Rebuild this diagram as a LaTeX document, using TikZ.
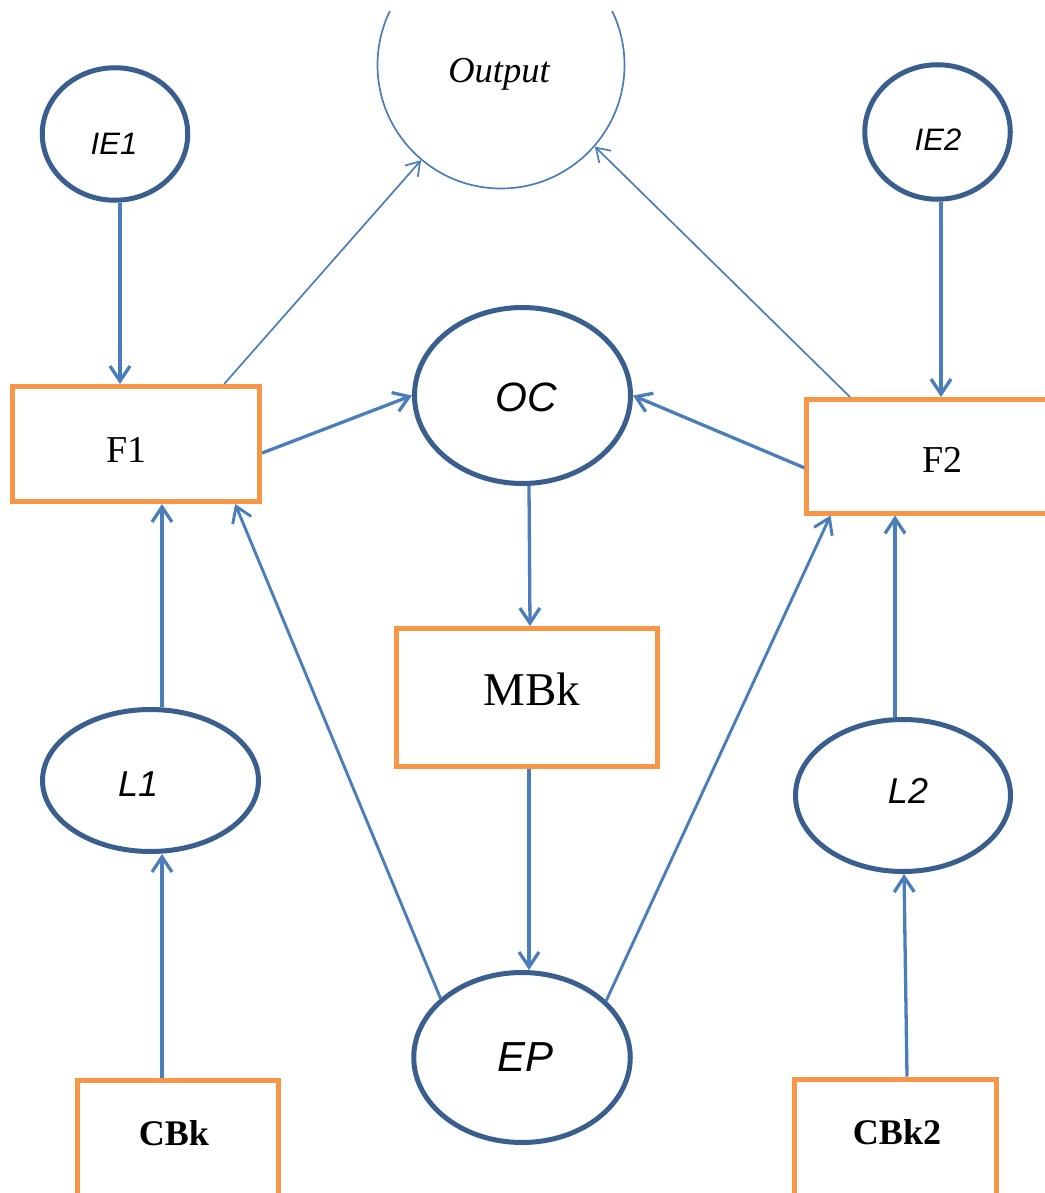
\documentclass[tikz,border=0pt]{standalone}
\usepackage{fontspec}
\setmainfont{Liberation Serif}
\newfontfamily\arialf{Liberation Sans}
\usetikzlibrary{shapes.geometric,arrows.meta}
\definecolor{ellc}{HTML}{3A5F8E}
\definecolor{linec}{HTML}{4A7EBB}
\definecolor{boxc}{HTML}{F79646}
\tikzset{
  ellnode/.style={ellipse, draw=ellc, line width=5pt, inner sep=0pt},
  boxnode/.style={rectangle, draw=boxc, line width=5pt, inner sep=0pt},
  lbl/.style={anchor=base, inner sep=0pt, text=black},
  sanslbl/.style={lbl, font=\arialf\itshape\fontsize{#1}{#1}\selectfont},
  seriflbl/.style={lbl, font=\fontsize{#1}{#1}\selectfont},
  boldlbl/.style={lbl, font=\bfseries\fontsize{#1}{#1}\selectfont},
  conn/.style={draw=linec, line width=3.3pt, -{Straight Barb[length=15pt,width=20pt]}},
  thinconn/.style={draw=linec, line width=1.7pt, -{Straight Barb[length=13pt,width=17pt]}}
}
\begin{document}
\begin{tikzpicture}[x=1pt,y=-1pt]
\useasboundingbox (0,0) rectangle (1044,1193);
\fill[white] (0,0) rectangle (1044,1193);

% Output (clipped at the top)
\begin{scope}
  \clip (0,12) rectangle (1044,1193);
  \node[circle, draw=linec, line width=1.7pt, inner sep=0pt, minimum size=247pt] (Out) at (501,65) {};
\end{scope}

% ellipses
\node[ellnode, minimum width=145.5pt, minimum height=132.5pt] (IE1) at (115,134) {};
\node[ellnode, minimum width=145.5pt, minimum height=134.5pt] (IE2) at (937.5,132) {};
\node[ellnode, minimum width=216pt, minimum height=176pt] (OC) at (522.5,395.5) {};
\node[ellnode, minimum width=216.5pt, minimum height=170pt] (EP) at (522,1057.5) {};
\node[ellnode, minimum width=216pt, minimum height=142pt] (L1) at (150.5,780.5) {};
\node[ellnode, minimum width=215pt, minimum height=152pt] (L2) at (903,795.5) {};

% boxes
\node[boxnode, minimum width=247pt, minimum height=115pt] (F1) at (136.15,444) {};
\node[boxnode, minimum width=268pt, minimum height=113.5pt] (F2) at (940.75,456.25) {};
\node[boxnode, minimum width=261pt, minimum height=138pt] (MBk) at (527,697.5) {};
\node[boxnode, minimum width=201.5pt, minimum height=150pt] (CBk) at (177.8,1155) {};
\node[boxnode, minimum width=202pt, minimum height=150pt] (CBk2) at (895.5,1154) {};

% labels
\node[seriflbl=36, font=\itshape\fontsize{36.5}{36.5}\selectfont] (tOut) at (499,83) {Output};
\node[sanslbl=31] (tIE1) at (114,155) {IE1};
\node[sanslbl=31] (tIE2) at (938,150.4) {IE2};
\node[sanslbl=41] (tOC) at (526,411) {OC};
\node[sanslbl=42] (tEP) at (525.8,1071) {EP};
\node[sanslbl=36] (tL1) at (138.2,796) {L1};
\node[sanslbl=36] (tL2) at (908,803.5) {L2};
\node[seriflbl=38] (tF1) at (126.5,462) {F1};
\node[seriflbl=38] (tF2) at (942.4,472.6) {F2};
\node[seriflbl=47] (tMBk) at (532,705) {MBk};
\node[boldlbl=36] (tCBk) at (174,1145) {CBk};
\node[boldlbl=36] (tCBk2) at (897,1144) {CBk2};

% connectors
\draw[conn] ([xshift=5pt]IE1.south) -- ([xshift=5pt]IE1.south |- F1.north);
\draw[conn] ([xshift=3.5pt]IE2.south) -- ([xshift=3.5pt]IE2.south |- F2.north);
\draw[thinconn] ([xshift=88pt]F1.north) -- (Out.230);
\draw[thinconn] ([xshift=-90.75pt]F2.north) -- (Out.319);
\draw[conn] ([yshift=-9pt]F1.east) -- (OC.west);
\draw[conn] ([yshift=-11.5pt]F2.west) -- (OC.east);
\draw[conn] ([xshift=6.5pt]OC.south) -- ([xshift=3pt]MBk.north);
\draw[conn] ([xshift=2pt]MBk.south) -- ([xshift=2pt]MBk.south |- EP.north);
\draw[conn, line width=2.9pt] (EP.144) -- ([xshift=99pt]F1.south);
\draw[conn, line width=2.9pt] (EP.34) -- ([xshift=-110.25pt]F2.south);
\draw[conn] ([xshift=11.5pt]L1.north) -- ([xshift=11.5pt]L1.north |- F1.south);
\draw[conn] ([xshift=11.5pt]L1.south |- CBk.north) -- ([xshift=11.5pt]L1.south);
\draw[conn] ([xshift=-8pt]L2.north) -- ([xshift=-8pt]L2.north |- F2.south);
\draw[conn] ([xshift=11.5pt]CBk2.north) -- ([xshift=1pt]L2.south);
\end{tikzpicture}
\end{document}
